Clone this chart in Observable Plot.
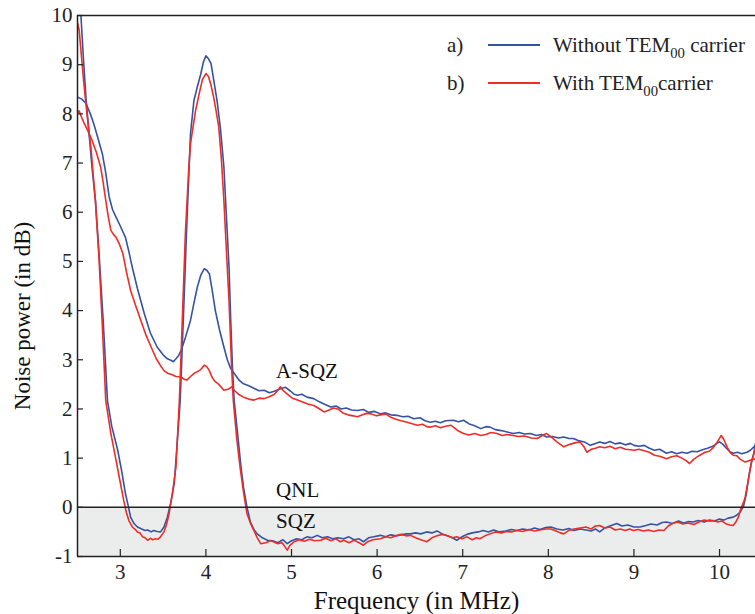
<!DOCTYPE html>
<html><head><meta charset="utf-8">
<script src="https://cdn.jsdelivr.net/npm/d3@7"></script>
<script src="https://cdn.jsdelivr.net/npm/@observablehq/plot@0.6"></script>
<style>
body{margin:0;background:#fff}
#wrap{position:relative;width:755px;height:614px;font-family:"Liberation Serif","Times New Roman",serif;color:#222}
#legend{position:absolute;left:447px;top:26px;font-size:21px;line-height:1}
.row{display:flex;align-items:center;height:38px;white-space:nowrap}
.key{display:inline-block;width:24px}
.sw{display:inline-block;width:52px;height:2px;margin:0 13px 0 17px}
sub{font-size:70%;vertical-align:-0.4em;line-height:0}
</style></head>
<body><div id="wrap"></div>
<script>
const blue = "#3553a3", red = "#ee2d27";
const xDomain = [2.5, 10.42];
const yDomain = [-1, 10];
const xTicks = [3, 4, 5, 6, 7, 8, 9, 10];
const yTicks = [-1, 0, 1, 2, 3, 4, 5, 6, 7, 8, 9, 10];
const qnlBand = [{y1: -1, y2: 0}];
const qnlLevel = [0];
const annotations = [
  {x: 4.82, y: 2.76, text: "A-SQZ"},
  {x: 4.82, y: 0.35, text: "QNL"},
  {x: 4.82, y: -0.28, text: "SQZ"}
];
const legendItems = [
  {key: "a)", label: "Without TEM", sub: "00", tail: " carrier", color: blue},
  {key: "b)", label: "With TEM", sub: "00", tail: "carrier", color: red}
];

// a) Without TEM00 carrier — anti-squeezing quadrature
const withoutAsqz = [[2.50,8.34],[2.55,8.30],[2.60,8.21],[2.65,8.00],[2.69,7.80],[2.74,7.50],[2.79,7.19],[2.83,6.80],[2.87,6.31],[2.91,6.05],[2.95,5.90],[3.00,5.72],[3.06,5.49],[3.10,5.20],[3.14,4.88],[3.20,4.45],[3.28,3.94],[3.35,3.55],[3.43,3.26],[3.50,3.10],[3.55,3.02],[3.59,2.99],[3.62,2.96],[3.65,3.02],[3.68,3.08],[3.71,3.19],[3.76,3.45],[3.82,3.80],[3.86,4.15],[3.90,4.48],[3.94,4.72],[3.98,4.85],[4.01,4.82],[4.04,4.75],[4.07,4.45],[4.11,4.00],[4.16,3.60],[4.21,3.26],[4.25,3.00],[4.29,2.82],[4.34,2.70],[4.39,2.58],[4.44,2.51],[4.50,2.47],[4.56,2.42],[4.62,2.37],[4.68,2.38],[4.74,2.33],[4.80,2.36],[4.87,2.41],[4.93,2.44],[4.99,2.36],[5.03,2.30],[5.07,2.28],[5.12,2.30],[5.18,2.24],[5.26,2.21],[5.32,2.15],[5.38,2.10],[5.46,2.04],[5.52,2.06],[5.58,2.00],[5.64,2.02],[5.70,1.98],[5.77,1.97],[5.84,1.99],[5.90,1.93],[5.97,1.95],[6.04,1.90],[6.10,1.92],[6.16,1.88],[6.23,1.87],[6.30,1.84],[6.36,1.85],[6.43,1.80],[6.50,1.82],[6.56,1.76],[6.62,1.73],[6.68,1.75],[6.74,1.72],[6.80,1.76],[6.89,1.77],[6.95,1.74],[7.01,1.77],[7.07,1.70],[7.14,1.66],[7.21,1.60],[7.27,1.64],[7.32,1.63],[7.38,1.58],[7.45,1.56],[7.52,1.53],[7.59,1.50],[7.66,1.52],[7.72,1.49],[7.79,1.50],[7.86,1.46],[7.92,1.48],[7.98,1.43],[8.05,1.44],[8.12,1.41],[8.18,1.43],[8.24,1.40],[8.29,1.40],[8.35,1.36],[8.42,1.33],[8.49,1.26],[8.55,1.30],[8.60,1.33],[8.66,1.30],[8.72,1.34],[8.78,1.29],[8.84,1.31],[8.90,1.27],[8.96,1.30],[9.00,1.26],[9.06,1.24],[9.12,1.26],[9.18,1.20],[9.24,1.16],[9.30,1.18],[9.38,1.10],[9.44,1.13],[9.50,1.09],[9.56,1.12],[9.62,1.10],[9.68,1.14],[9.74,1.13],[9.80,1.17],[9.86,1.20],[9.92,1.24],[9.97,1.30],[10.00,1.33],[10.04,1.28],[10.08,1.20],[10.12,1.13],[10.16,1.10],[10.21,1.12],[10.26,1.09],[10.32,1.12],[10.36,1.16],[10.42,1.26]];

// b) With TEM00 carrier — anti-squeezing quadrature
const withAsqz = [[2.50,8.03],[2.52,8.06],[2.55,7.92],[2.58,7.80],[2.62,7.66],[2.67,7.46],[2.72,7.22],[2.77,6.92],[2.80,6.60],[2.83,6.24],[2.86,5.90],[2.89,5.63],[2.92,5.55],[2.95,5.49],[2.99,5.35],[3.03,5.16],[3.07,4.80],[3.12,4.41],[3.18,4.10],[3.24,3.80],[3.30,3.50],[3.36,3.26],[3.42,3.02],[3.47,2.88],[3.51,2.78],[3.56,2.72],[3.60,2.70],[3.65,2.66],[3.71,2.65],[3.75,2.60],[3.78,2.59],[3.82,2.66],[3.86,2.72],[3.90,2.76],[3.94,2.80],[3.98,2.89],[4.01,2.86],[4.04,2.78],[4.07,2.65],[4.10,2.57],[4.15,2.50],[4.21,2.38],[4.26,2.40],[4.30,2.45],[4.33,2.38],[4.38,2.30],[4.44,2.24],[4.50,2.20],[4.56,2.18],[4.62,2.22],[4.68,2.21],[4.74,2.25],[4.80,2.30],[4.85,2.40],[4.87,2.45],[4.90,2.38],[4.95,2.30],[5.01,2.22],[5.07,2.18],[5.13,2.14],[5.19,2.10],[5.26,2.07],[5.32,2.01],[5.38,1.94],[5.44,1.98],[5.49,2.02],[5.54,2.00],[5.60,1.92],[5.66,1.88],[5.72,1.86],[5.77,1.84],[5.83,1.88],[5.88,1.91],[5.93,1.90],[5.99,1.86],[6.04,1.88],[6.10,1.90],[6.16,1.83],[6.22,1.79],[6.28,1.76],[6.35,1.73],[6.41,1.70],[6.47,1.67],[6.53,1.69],[6.58,1.64],[6.62,1.63],[6.68,1.66],[6.74,1.62],[6.80,1.65],[6.86,1.67],[6.90,1.62],[6.95,1.55],[7.01,1.50],[7.07,1.47],[7.14,1.50],[7.21,1.46],[7.27,1.48],[7.33,1.52],[7.40,1.50],[7.46,1.46],[7.52,1.48],[7.59,1.46],[7.65,1.44],[7.72,1.45],[7.80,1.41],[7.87,1.40],[7.93,1.46],[7.98,1.50],[8.04,1.42],[8.10,1.33],[8.18,1.23],[8.25,1.28],[8.31,1.31],[8.37,1.33],[8.42,1.22],[8.45,1.12],[8.50,1.18],[8.55,1.20],[8.60,1.23],[8.66,1.21],[8.72,1.24],[8.78,1.19],[8.84,1.22],[8.90,1.18],[8.96,1.17],[9.00,1.16],[9.06,1.18],[9.12,1.15],[9.18,1.12],[9.24,1.06],[9.30,1.04],[9.38,0.99],[9.44,1.03],[9.50,1.05],[9.56,1.00],[9.61,0.95],[9.65,0.89],[9.70,0.98],[9.77,1.06],[9.83,1.12],[9.88,1.14],[9.93,1.22],[9.97,1.32],[10.02,1.46],[10.05,1.38],[10.09,1.22],[10.13,1.10],[10.16,1.06],[10.20,1.05],[10.24,0.98],[10.30,0.92],[10.35,0.95],[10.42,0.99]];

// a) Without TEM00 carrier — squeezing quadrature
const withoutSqz = [[2.50,11.0],[2.54,10.0],[2.57,9.10],[2.60,8.30],[2.63,7.70],[2.67,6.90],[2.71,6.24],[2.75,5.20],[2.80,3.80],[2.85,2.17],[2.90,1.65],[2.97,1.16],[3.02,0.70],[3.06,0.28],[3.09,0.05],[3.12,-0.20],[3.16,-0.33],[3.20,-0.40],[3.25,-0.44],[3.29,-0.47],[3.32,-0.46],[3.36,-0.50],[3.39,-0.47],[3.43,-0.49],[3.47,-0.50],[3.51,-0.40],[3.55,-0.20],[3.59,0.10],[3.63,0.48],[3.66,1.20],[3.70,2.17],[3.74,4.00],[3.78,5.90],[3.82,7.60],[3.86,8.27],[3.90,8.55],[3.94,8.81],[3.97,9.05],[4.00,9.18],[4.03,9.12],[4.06,9.02],[4.09,8.70],[4.13,8.27],[4.17,7.70],[4.21,6.92],[4.24,5.90],[4.27,4.88],[4.29,3.80],[4.31,2.85],[4.33,2.17],[4.37,1.50],[4.41,0.82],[4.44,0.40],[4.48,0.00],[4.52,-0.30],[4.56,-0.45],[4.60,-0.54],[4.66,-0.62],[4.72,-0.67],[4.78,-0.68],[4.84,-0.72],[4.90,-0.66],[4.95,-0.74],[5.00,-0.68],[5.06,-0.64],[5.12,-0.66],[5.18,-0.60],[5.24,-0.62],[5.30,-0.57],[5.36,-0.62],[5.42,-0.60],[5.48,-0.64],[5.54,-0.62],[5.61,-0.64],[5.67,-0.60],[5.73,-0.66],[5.79,-0.64],[5.84,-0.70],[5.90,-0.62],[5.96,-0.60],[6.04,-0.57],[6.10,-0.60],[6.16,-0.56],[6.22,-0.58],[6.28,-0.56],[6.34,-0.54],[6.39,-0.54],[6.45,-0.52],[6.51,-0.54],[6.58,-0.50],[6.64,-0.52],[6.70,-0.48],[6.76,-0.54],[6.82,-0.58],[6.88,-0.62],[6.93,-0.67],[6.99,-0.60],[7.05,-0.55],[7.11,-0.52],[7.18,-0.50],[7.24,-0.47],[7.30,-0.50],[7.36,-0.46],[7.43,-0.50],[7.50,-0.48],[7.57,-0.45],[7.63,-0.47],[7.70,-0.44],[7.77,-0.46],[7.84,-0.42],[7.90,-0.45],[7.97,-0.41],[8.03,-0.40],[8.10,-0.44],[8.17,-0.46],[8.24,-0.43],[8.30,-0.47],[8.37,-0.44],[8.44,-0.46],[8.50,-0.48],[8.55,-0.44],[8.60,-0.50],[8.66,-0.42],[8.72,-0.38],[8.80,-0.33],[8.86,-0.38],[8.93,-0.36],[9.00,-0.40],[9.07,-0.40],[9.14,-0.37],[9.20,-0.34],[9.27,-0.36],[9.33,-0.31],[9.38,-0.30],[9.45,-0.33],[9.52,-0.28],[9.58,-0.32],[9.64,-0.29],[9.69,-0.30],[9.75,-0.27],[9.82,-0.30],[9.88,-0.26],[9.94,-0.28],[10.00,-0.24],[10.05,-0.26],[10.10,-0.22],[10.16,-0.20],[10.20,-0.16],[10.24,-0.10],[10.28,0.02],[10.31,0.25],[10.34,0.60],[10.37,0.90],[10.40,1.10],[10.42,1.30]];

// b) With TEM00 carrier — squeezing quadrature
const withSqz = [[2.50,9.85],[2.52,9.70],[2.54,9.29],[2.57,8.70],[2.60,8.17],[2.63,7.70],[2.66,7.26],[2.71,6.20],[2.75,5.10],[2.79,3.70],[2.83,2.17],[2.89,1.50],[2.95,0.96],[3.00,0.50],[3.04,0.14],[3.07,-0.10],[3.10,-0.27],[3.14,-0.40],[3.18,-0.46],[3.20,-0.50],[3.23,-0.52],[3.26,-0.60],[3.29,-0.62],[3.32,-0.67],[3.35,-0.63],[3.38,-0.66],[3.41,-0.64],[3.44,-0.65],[3.47,-0.60],[3.51,-0.50],[3.54,-0.35],[3.57,-0.13],[3.61,0.30],[3.65,0.82],[3.69,2.17],[3.72,3.60],[3.76,5.56],[3.80,6.90],[3.82,7.39],[3.86,7.85],[3.88,8.07],[3.92,8.40],[3.96,8.70],[4.00,8.82],[4.03,8.76],[4.06,8.58],[4.09,8.34],[4.12,8.05],[4.15,7.73],[4.18,7.10],[4.21,6.24],[4.24,5.20],[4.27,4.20],[4.30,2.85],[4.32,2.17],[4.36,1.40],[4.40,0.80],[4.44,0.30],[4.48,-0.13],[4.52,-0.32],[4.56,-0.47],[4.60,-0.62],[4.64,-0.74],[4.70,-0.72],[4.75,-0.68],[4.79,-0.70],[4.84,-0.74],[4.89,-0.72],[4.93,-0.82],[4.95,-0.87],[4.98,-0.78],[5.03,-0.70],[5.09,-0.66],[5.15,-0.69],[5.21,-0.65],[5.27,-0.68],[5.34,-0.67],[5.40,-0.63],[5.46,-0.68],[5.52,-0.64],[5.57,-0.70],[5.61,-0.67],[5.67,-0.72],[5.73,-0.67],[5.79,-0.72],[5.84,-0.77],[5.89,-0.70],[5.95,-0.66],[6.04,-0.64],[6.10,-0.60],[6.16,-0.62],[6.22,-0.58],[6.28,-0.55],[6.34,-0.58],[6.39,-0.57],[6.45,-0.62],[6.51,-0.66],[6.58,-0.70],[6.64,-0.62],[6.70,-0.58],[6.76,-0.55],[6.82,-0.58],[6.88,-0.62],[6.93,-0.60],[6.99,-0.64],[7.05,-0.60],[7.11,-0.66],[7.16,-0.62],[7.20,-0.64],[7.26,-0.58],[7.32,-0.54],[7.38,-0.50],[7.45,-0.52],[7.51,-0.49],[7.57,-0.50],[7.63,-0.47],[7.70,-0.49],[7.77,-0.45],[7.84,-0.48],[7.90,-0.46],[7.97,-0.44],[8.03,-0.44],[8.09,-0.48],[8.14,-0.52],[8.18,-0.54],[8.24,-0.47],[8.30,-0.44],[8.37,-0.42],[8.44,-0.40],[8.50,-0.44],[8.55,-0.38],[8.60,-0.37],[8.66,-0.42],[8.72,-0.40],[8.78,-0.46],[8.84,-0.44],[8.90,-0.47],[8.95,-0.44],[8.99,-0.47],[9.05,-0.45],[9.11,-0.48],[9.17,-0.46],[9.23,-0.49],[9.29,-0.46],[9.35,-0.47],[9.40,-0.38],[9.45,-0.33],[9.51,-0.30],[9.57,-0.34],[9.63,-0.32],[9.70,-0.35],[9.76,-0.30],[9.82,-0.26],[9.88,-0.28],[9.93,-0.27],[9.98,-0.30],[10.03,-0.28],[10.08,-0.34],[10.12,-0.36],[10.16,-0.37],[10.19,-0.30],[10.22,-0.20],[10.25,-0.02],[10.28,0.10],[10.30,0.21],[10.33,0.50],[10.36,0.80],[10.38,0.96],[10.42,1.20]];

const font = `"Liberation Serif","Times New Roman",serif`;
const lineOpts = (color) => ({x: d => d[0], y: d => d[1], stroke: color, strokeWidth: 1.6, clip: true});

const chart = Plot.plot({
  width: 755, height: 614,
  marginLeft: 77, marginRight: 0, marginTop: 15, marginBottom: 58,
  style: `font-family: ${font}; background: white; color: #222; overflow: visible;`,
  x: {domain: xDomain},
  y: {domain: yDomain},
  marks: [
    Plot.rect(qnlBand, {x1: () => xDomain[0], x2: () => xDomain[1], y1: "y1", y2: "y2", fill: "#ebedec"}),
    Plot.line(withoutAsqz, lineOpts(blue)),
    Plot.line(withAsqz, lineOpts(red)),
    Plot.line(withoutSqz, lineOpts(blue)),
    Plot.line(withSqz, lineOpts(red)),
    Plot.ruleY(qnlLevel, {stroke: "#222", strokeWidth: 1.5}),
    Plot.ruleX([xDomain[0]], {stroke: "#222", strokeWidth: 1.5}),
    Plot.ruleY([yDomain[0], yDomain[1]], {stroke: "#222", strokeWidth: 1.5}),
    Plot.text(annotations, {x: "x", y: "y", text: "text", textAnchor: "start", fontSize: 21, fontFamily: font, fill: "#111"}),
    Plot.axisY(yTicks, {tickSize: 0, tickPadding: 5, tickFormat: d => String(d), fontSize: 21, fontFamily: font, label: null, fill: "#222"}),
    Plot.axisY(yTicks, {tickSize: -6, tickFormat: () => "", label: null, stroke: "#222", strokeWidth: 1.2}),
    Plot.axisX(xTicks, {tickSize: 0, tickPadding: 8, tickFormat: d => String(d), fontSize: 21, fontFamily: font, label: null, fill: "#222"}),
    Plot.axisX(xTicks, {tickSize: -7, tickFormat: () => "", label: null, stroke: "#222", strokeWidth: 1.2}),
    Plot.text(["Frequency (in MHz)"], {text: d => d, frameAnchor: "bottom", lineAnchor: "middle", textAnchor: "middle", dy: 44, fontSize: 25, fontFamily: font, fill: "#111"}),
    Plot.text(["Noise power (in dB)"], {text: d => d, frameAnchor: "left", lineAnchor: "middle", textAnchor: "middle", dx: -55, dy: 30, rotate: -90, fontSize: 23, fontFamily: font, fill: "#111"})
  ]
});

const wrap = document.getElementById("wrap");
wrap.appendChild(chart);
const legend = document.createElement("div");
legend.id = "legend";
legend.innerHTML = legendItems.map(it =>
  `<div class="row"><span class="key">${it.key}</span><span class="sw" style="background:${it.color}"></span><span>${it.label}<sub>${it.sub}</sub>${it.tail}</span></div>`
).join("");
wrap.appendChild(legend);
</script>
</body></html>
